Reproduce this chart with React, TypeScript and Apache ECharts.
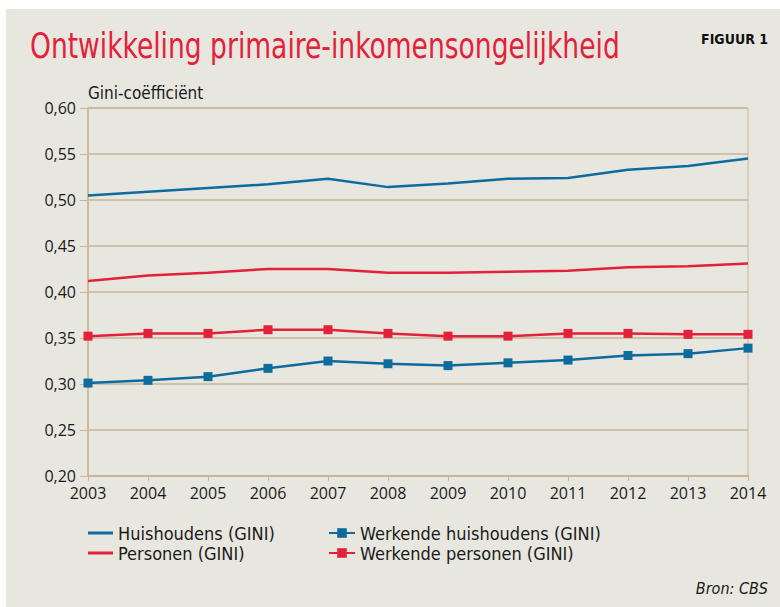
import React, { useEffect, useRef } from "react";
import * as echarts from "echarts";

const years = ["2003", "2004", "2005", "2006", "2007", "2008", "2009", "2010", "2011", "2012", "2013", "2014"];
const huishoudens = [0.505, 0.509, 0.513, 0.517, 0.523, 0.514, 0.518, 0.523, 0.524, 0.533, 0.537, 0.545];
const personen = [0.412, 0.418, 0.421, 0.425, 0.425, 0.421, 0.421, 0.422, 0.423, 0.427, 0.428, 0.431];
const werkendeHuishoudens = [0.301, 0.304, 0.308, 0.317, 0.325, 0.322, 0.320, 0.323, 0.326, 0.331, 0.333, 0.339];
const werkendePersonen = [0.352, 0.355, 0.355, 0.359, 0.359, 0.355, 0.352, 0.352, 0.355, 0.355, 0.354, 0.354];

const seriesNames = [
  "Huishoudens (GINI)",
  "Werkende huishoudens (GINI)",
  "Personen (GINI)",
  "Werkende personen (GINI)",
];

const BLUE = "#0E6B9D";
const RED = "#E3213B";
const TAN = "#C7B696";
const BG = "#E8E7DF";
const NARROW = '"Liberation Sans Narrow", "DejaVu Sans Condensed", "Roboto", sans-serif';
const LABELFONT = '"Open Sans", Lato, sans-serif';

export default function App() {
  const ref = useRef<HTMLDivElement>(null);
  useEffect(() => {
    if (!ref.current) return;
    const chart = echarts.init(ref.current, null, { renderer: "svg" });
    const lineSeries = (name: string, data: number[], color: string, marker: boolean) => ({
      name,
      type: "line",
      data,
      symbol: marker ? "rect" : "none",
      symbolSize: 9,
      showSymbol: marker,
      lineStyle: { color, width: 2.5 },
      itemStyle: { color },
      z: 5,
    });
    const legendText = { fontFamily: NARROW, fontSize: 18, color: "#1a1a1a", lineHeight: 18 };
    chart.setOption({
      animation: false,
      backgroundColor: "#ffffff",
      graphic: [
        {
          type: "rect",
          shape: { x: 6, y: 9, width: 774, height: 598 },
          style: { fill: BG },
          z: -10,
          silent: true,
        },
        {
          type: "text",
          x: 30,
          y: 27,
          scaleX: 0.82,
          style: { text: "Ontwikkeling primaire-inkomensongelijkheid", fill: RED, font: `36px ${NARROW}` },
        },
        {
          type: "text",
          x: 768,
          y: 32,
          style: { text: "FIGUUR 1", fill: "#111", align: "right", font: `900 14px ${NARROW}` },
        },
        {
          type: "text",
          x: 88,
          y: 84,
          style: { text: "Gini-coëfficiënt", fill: "#1a1a1a", font: `17px ${NARROW}` },
        },
        {
          type: "text",
          x: 768,
          y: 580,
          style: { text: "Bron: CBS", fill: "#1a1a1a", align: "right", font: `italic 16px ${NARROW}` },
        },
      ],
      grid: {
        left: 88,
        right: 32,
        top: 108,
        bottom: 131,
        show: true,
        borderColor: TAN,
        borderWidth: 1,
        backgroundColor: "transparent",
      },
      legend: [
        {
          data: [
            { name: seriesNames[0], icon: "rect" },
            { name: seriesNames[2], icon: "rect" },
          ],
          orient: "vertical",
          left: 83,
          top: 519,
          itemWidth: 25,
          itemHeight: 3,
          itemGap: 2,
          textStyle: legendText,
        },
        {
          data: [seriesNames[1], seriesNames[3]],
          orient: "vertical",
          left: 323,
          top: 519,
          itemWidth: 26,
          itemHeight: 12,
          itemGap: 2,
          textStyle: legendText,
        },
      ],
      xAxis: {
        type: "category",
        data: years,
        boundaryGap: false,
        axisLine: { lineStyle: { color: TAN, width: 2 } },
        axisTick: { show: true, length: 5, lineStyle: { color: TAN } },
        axisLabel: { color: "#1a1a1a", fontFamily: LABELFONT, fontSize: 16, margin: 9 },
        splitLine: { show: false },
      },
      yAxis: {
        type: "value",
        min: 0.2,
        max: 0.6,
        interval: 0.05,
        axisLine: { show: true, lineStyle: { color: TAN, width: 1.5 } },
        axisTick: { show: true, length: 8, lineStyle: { color: TAN } },
        axisLabel: {
          color: "#1a1a1a",
          fontFamily: LABELFONT,
          fontSize: 16,
          margin: 12,
          formatter: (v: number) => v.toFixed(2).replace(".", ","),
        },
        splitLine: { show: true, lineStyle: { color: TAN, width: 1.5 } },
      },
      series: [
        lineSeries(seriesNames[0], huishoudens, BLUE, false),
        lineSeries(seriesNames[1], werkendeHuishoudens, BLUE, true),
        lineSeries(seriesNames[2], personen, RED, false),
        lineSeries(seriesNames[3], werkendePersonen, RED, true),
      ],
    });
    return () => chart.dispose();
  }, []);
  return (
    <div style={{ position: "absolute", left: 0, top: 0, width: 780, height: 607 }}>
      <div ref={ref} style={{ width: 780, height: 607 }} />
    </div>
  );
}
